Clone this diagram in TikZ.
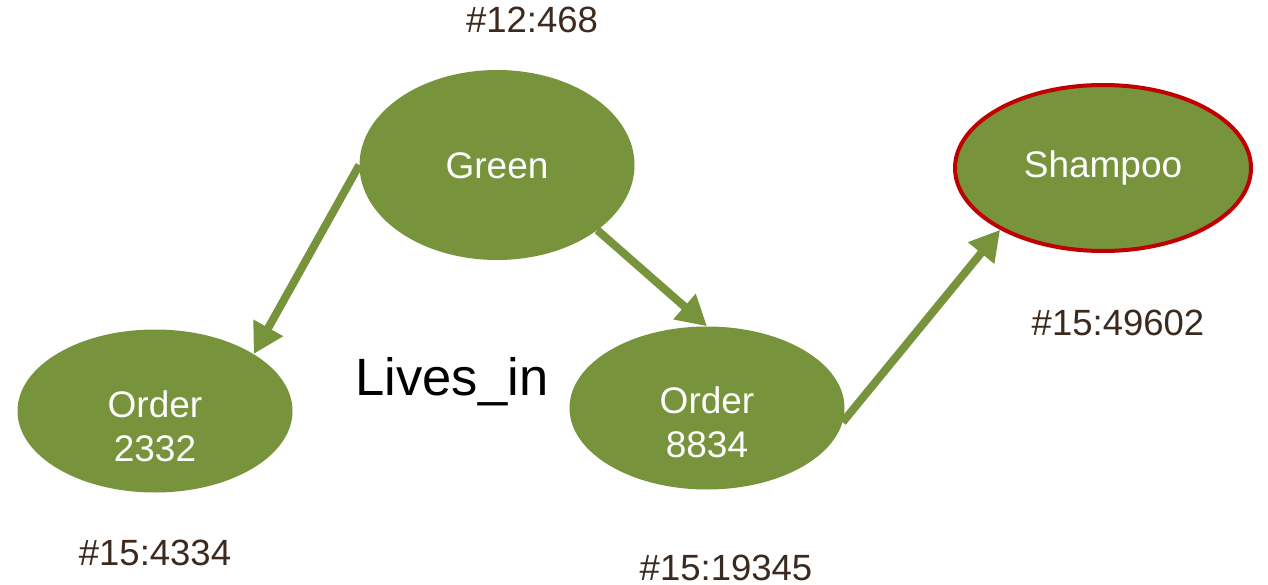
\documentclass[tikz,border=0pt]{standalone}
\usepackage{fontspec}
\setmainfont{Liberation Sans}
\usetikzlibrary{shapes.geometric,arrows.meta}
\definecolor{olive}{HTML}{77933C}
\definecolor{alert}{HTML}{C00000}
\definecolor{idbrown}{HTML}{3C2A1E}
\begin{document}
\begin{tikzpicture}[x=1pt,y=-1pt,
  vertex/.style={ellipse,fill=olive,draw=none,inner sep=0pt,
    minimum width=275pt,minimum height=163pt,text=white,align=center,
    font=\fontsize{37}{44}\selectfont},
  vtext/.style={text=white,align=center,inner sep=0pt,
    font=\fontsize{37}{44}\selectfont},
  idlabel/.style={text=idbrown,inner sep=0pt,font=\fontsize{36.5}{40}\selectfont},
  link/.style={draw=olive,line width=8pt,
    -{Triangle[length=30pt,width=32pt]}}]
  \useasboundingbox (0,0) rectangle (1268,585);

  % record vertices
  \node[vertex,minimum height=190pt] (green) at (497,165) {};
  \node[vtext] (greent) at (497,166) {Green};
  \node[vertex,minimum width=296pt,minimum height=166pt,draw=alert,line width=4pt] (shampoo) at (1103,168) {};
  \node[vtext] (shampoot) at (1103,168) {Shampoo};
  \node[vertex] (o2332) at (155,411) {};
  \node[vtext] (o2332t) at (155,426) {Order\\2332};
  \node[vertex] (o8834) at (707,408) {};
  \node[vtext] (o8834t) at (707,422) {Order\\8834};

  % record ids
  \node[idlabel] (idgreen) at (532,20) {\#12:468};
  \node[idlabel] (idshampoo) at (1118,323) {\#15:49602};
  \node[idlabel] (ido2332) at (155,553) {\#15:4334};
  \node[idlabel] (ido8834) at (726,568) {\#15:19345};

  % edge label
  \node[inner sep=0pt,font=\fontsize{52.5}{58}\selectfont] (lives) at (452,382) {Lives\_in};

  % edges
  \draw[link] (green.west) -- (o2332.30);
  \draw[link] (green.-33) -- (o8834.north);
  \draw[link] (o8834.-6) -- (shampoo.211);
\end{tikzpicture}
\end{document}
